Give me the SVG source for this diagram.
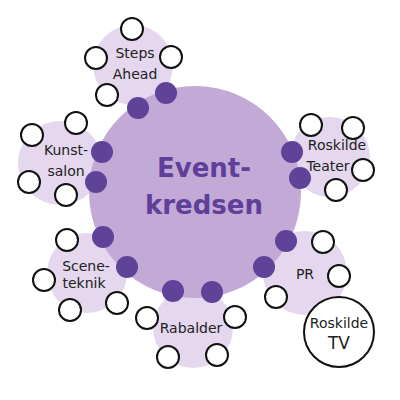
<svg xmlns="http://www.w3.org/2000/svg" width="400" height="400" viewBox="0 0 400 400">
<style>
.sat{fill:#e4d7ee}
.dot{fill:#5e4399}
.w{fill:#fff;stroke:#111;stroke-width:2}
.lb{font-family:"DejaVu Sans",Verdana,sans-serif;font-size:14px;fill:#222;text-anchor:middle}
.ct{font-family:"DejaVu Sans",Verdana,sans-serif;font-size:26px;font-weight:bold;fill:#5e3f99;text-anchor:middle}
</style>
<rect width="400" height="400" fill="#fff"/>
<g id="steps-ahead">
<circle class="sat" cx="133" cy="65" r="40"/>
<circle class="w" cx="132" cy="29" r="11"/><circle class="w" cx="96" cy="58" r="11"/><circle class="w" cx="171" cy="57" r="11"/><circle class="w" cx="107" cy="95" r="11"/>
<text class="lb" x="135" y="58">Steps</text><text class="lb" x="135" y="79">Ahead</text>
</g>
<g id="kunstsalon">
<circle class="sat" cx="60" cy="163" r="42"/>
<circle class="w" cx="76" cy="123" r="11"/><circle class="w" cx="32" cy="135" r="11"/><circle class="w" cx="29" cy="182" r="11"/><circle class="w" cx="66" cy="195" r="11"/>
<text class="lb" x="66" y="155">Kunst-</text><text class="lb" x="66" y="176">salon</text>
</g>
<g id="roskilde-teater">
<circle class="sat" cx="330" cy="157" r="40"/>
<circle class="w" cx="311" cy="125" r="11"/><circle class="w" cx="353" cy="128" r="11"/><circle class="w" cx="363" cy="170" r="11"/><circle class="w" cx="336" cy="190" r="11"/>
<text class="lb" x="337" y="150">Roskilde</text><text class="lb" x="328" y="171">Teater</text>
</g>
<g id="sceneteknik">
<circle class="sat" cx="87" cy="273" r="40"/>
<circle class="w" cx="67" cy="240" r="11"/><circle class="w" cx="44" cy="280" r="11"/><circle class="w" cx="70" cy="310" r="11"/><circle class="w" cx="117" cy="303" r="11"/>
<text class="lb" x="86" y="271">Scene-</text><text class="lb" x="84" y="288">teknik</text>
</g>
<g id="rabalder">
<circle class="sat" cx="193" cy="328" r="40"/>
<circle class="w" cx="147" cy="318" r="11"/><circle class="w" cx="168" cy="357" r="11"/><circle class="w" cx="235" cy="317" r="11"/><circle class="w" cx="217" cy="355" r="11"/>
<text class="lb" x="191" y="333">Rabalder</text>
</g>
<g id="pr">
<circle class="sat" cx="305" cy="273" r="42"/>
<circle class="w" cx="323" cy="242" r="11"/><circle class="w" cx="339" cy="276" r="11"/><circle class="w" cx="276" cy="297" r="11"/>
<text class="lb" x="305" y="279">PR</text>
</g>
<g id="eventkredsen">
<circle cx="195" cy="192" r="106" fill="#c3a9d6"/>
<text class="ct" x="204" y="177">Event-</text><text class="ct" x="204" y="214">kredsen</text>
</g>
<g id="connectors">
<circle class="dot" cx="138" cy="108" r="11"/><circle class="dot" cx="166" cy="93" r="11"/>
<circle class="dot" cx="102" cy="152" r="11"/><circle class="dot" cx="96" cy="182" r="11"/>
<circle class="dot" cx="292" cy="152" r="11"/><circle class="dot" cx="300" cy="178" r="11"/>
<circle class="dot" cx="103" cy="237" r="11"/><circle class="dot" cx="127" cy="267" r="11"/>
<circle class="dot" cx="173" cy="291" r="11"/><circle class="dot" cx="212" cy="292" r="11"/>
<circle class="dot" cx="286" cy="241" r="11"/><circle class="dot" cx="264" cy="267" r="11"/>
</g>
<g id="roskilde-tv">
<circle cx="339" cy="332" r="35" fill="#fff" stroke="#111" stroke-width="2"/>
<text class="lb" x="339" y="328">Roskilde</text><text class="lb" x="339" y="349" style="font-size:17px">TV</text>
</g>
</svg>
